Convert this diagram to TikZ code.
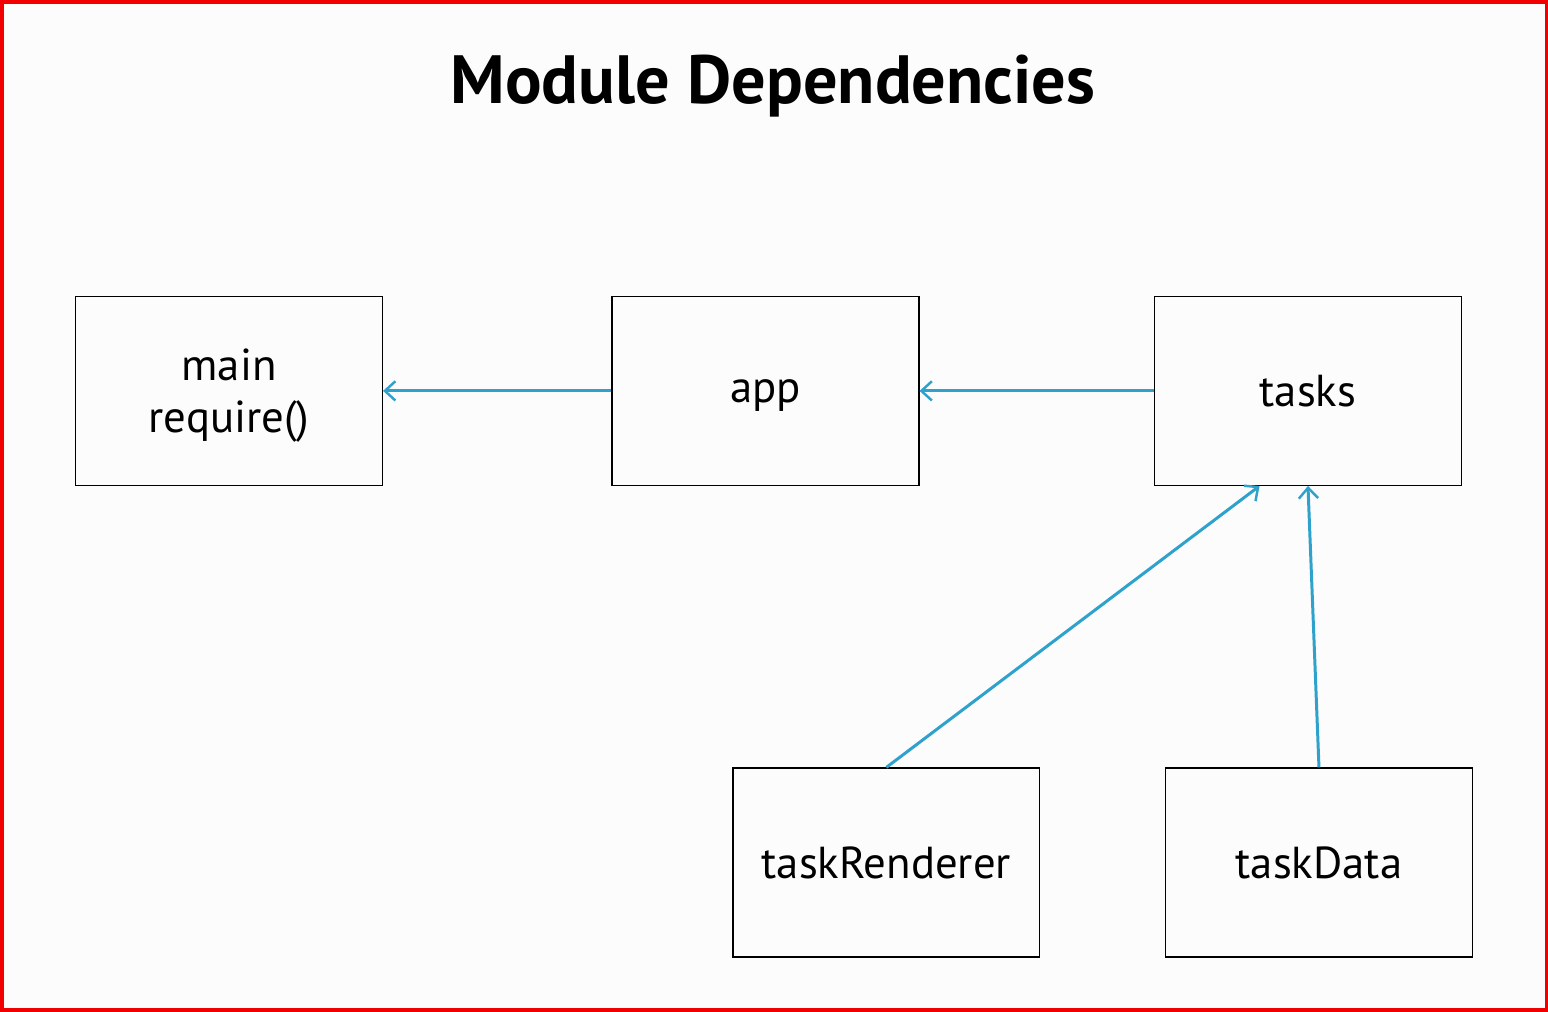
\documentclass[tikz,border=0pt]{standalone}
\usepackage{fontspec}
\setmainfont{PT Sans}
\usetikzlibrary{arrows.meta}
\definecolor{linkblue}{HTML}{2EA2CC}
\definecolor{framered}{HTML}{F00000}
\definecolor{paper}{HTML}{FCFCFC}

\begin{document}
\begin{tikzpicture}[x=0.02cm,y=-0.02cm]
\tikzstyle{module}=[draw=black,line width=0.8pt,minimum width=6.14cm,minimum height=3.78cm,align=center,font=\fontsize{25.5}{29.5}\selectfont]
\tikzstyle{dep}=[draw=linkblue,line width=1.7pt,-{Straight Barb[length=6pt,width=11pt,line width=1.4pt]}]
% page and frame
\fill[paper] (0,0) rectangle (1548,1011);
\draw[framered,line width=2pt] (1,1) rectangle (1547,1010);
\useasboundingbox (0,0) rectangle (1548,1011);
\node[font=\fontsize{38.9}{42}\selectfont\bfseries,anchor=base] (title) at (773,103) {Module Dependencies};
% modules
\node[module,text depth=0pt] (main) at (228.5,390.5) {main\\require()};
\node[module,text depth=0pt] (app) at (765.5,390.5) {app};
\node[module] (tasks) at (1308.5,390.5) {tasks};
\node[module] (renderer) at (886.5,862.5) {taskRenderer};
\node[module] (data) at (1319.5,862.5) {taskData};
% dependencies
\draw[dep] (app.west) -- (main.east);
\draw[dep] (tasks.west) -- (app.east);
\draw[dep] (renderer.north) -- ([xshift=-0.97cm]tasks.south);
\draw[dep] (data.north) -- (tasks.south);
\end{tikzpicture}
\end{document}
